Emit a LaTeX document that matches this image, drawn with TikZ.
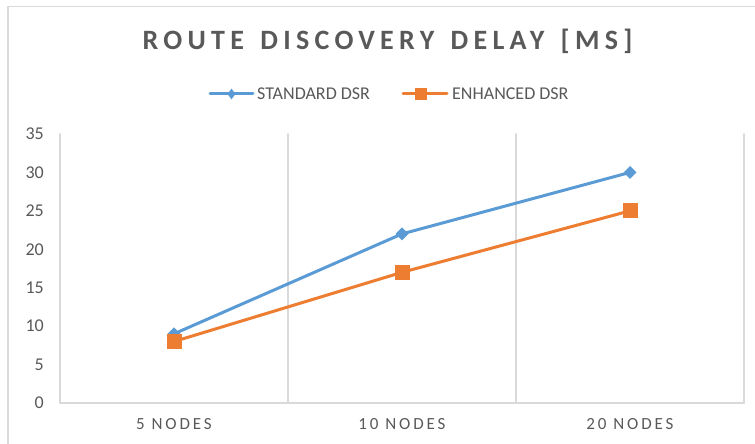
\documentclass[tikz,border=0pt]{standalone}
\usepackage{fontspec}
\setmainfont{Carlito}
\newfontfamily\titlefont[LetterSpace=19]{Carlito}
\newfontfamily\catfont[LetterSpace=17]{Carlito}
\usetikzlibrary{shapes.geometric,calc}
\definecolor{stdblue}{HTML}{5B9BD5}
\definecolor{enhorange}{HTML}{ED7D31}
\definecolor{textgray}{HTML}{595959}
\definecolor{gridgray}{HTML}{D9D9D9}
\tikzset{
  stdmark/.style={diamond, fill=stdblue, inner sep=0pt, minimum width=13pt, minimum height=13pt},
  enhmark/.style={rectangle, fill=enhorange, inner sep=0pt, minimum size=15pt},
  stdline/.style={stdblue, line width=3pt},
  enhline/.style={enhorange, line width=3pt},
  ticklabel/.style={text=textgray, font=\fontsize{18}{20}\selectfont, inner sep=0pt},
  catlabel/.style={text=textgray, font=\catfont\fontsize{17}{19}\selectfont, inner sep=0pt}
}
\begin{document}
\begin{tikzpicture}[x=1pt, y=1pt, line join=round, line cap=round]
            \useasboundingbox (0,0) rectangle (755,444);
            \draw[gridgray, line width=1.5pt, line cap=butt] (8,0)--(8,437.5)--(755,437.5);
            % Title
            \node (title) at (387.5,394) [anchor=base, text=textgray, inner sep=0pt]
                {\titlefont\bfseries\fontsize{28}{30}\selectfont ROUTE\, DISCOVERY\, DELAY\, [MS]};
            % Legend
            \coordinate (lsa) at (210,350); \coordinate (lsb) at (253,350);
            \coordinate (lea) at (403,350); \coordinate (leb) at (447,350);
            \draw[stdline] (lsa)--(lsb);
            \node (lsm) at ($(lsa)!0.5!(lsb)$) [stdmark, minimum width=8pt, minimum height=11pt] {};
            \node (lst) at (257,344) [anchor=base west, text=textgray, inner sep=0pt, font=\fontsize{18}{20}\selectfont] {STANDARD DSR};
            \draw[enhline] (lea)--(leb);
            \node (lem) at ($(lea)!0.4!(leb)$) [enhmark, minimum size=12pt] {};
            \node (let) at (452,344) [anchor=base west, text=textgray, inner sep=0pt, font=\fontsize{18}{20}\selectfont] {ENHANCED DSR};
            % Plot area
            \begin{scope}[shift={(60,41)}, x=228pt, y=7.686pt]
            \def\xmax{3} \def\ymax{35}
            \foreach \i in {0,...,\xmax} \draw[gridgray, line width=1.5pt] (\i,0)--(\i,\ymax);
            \draw[gridgray, line width=1.5pt] (0,0)--(\xmax,0);
            \foreach \v in {0,5,...,35} \node (tick\v) at (0,\v) [ticklabel, anchor=east, xshift=-16pt] {\v};
            \node (cat1) at (0.5,0) [catlabel, yshift=-21pt] {5 NODES};
            \node (cat2) at (1.5,0) [catlabel, yshift=-21pt] {10 NODES};
            \node (cat3) at (2.5,0) [catlabel, yshift=-21pt] {20 NODES};
            \coordinate (std1) at (0.5,9);  \coordinate (std2) at (1.5,22); \coordinate (std3) at (2.5,30);
            \coordinate (enh1) at (0.5,8);  \coordinate (enh2) at (1.5,17); \coordinate (enh3) at (2.5,25);
            \draw[stdline] (std1)--(std2)--(std3);
            \draw[enhline] (enh1)--(enh2)--(enh3);
            \foreach \n in {1,2,3} \node (stdm\n) at (std\n) [stdmark] {};
            \foreach \n in {1,2,3} \node (enhm\n) at (enh\n) [enhmark] {};
            \end{scope}
    \end{tikzpicture}
\end{document}
